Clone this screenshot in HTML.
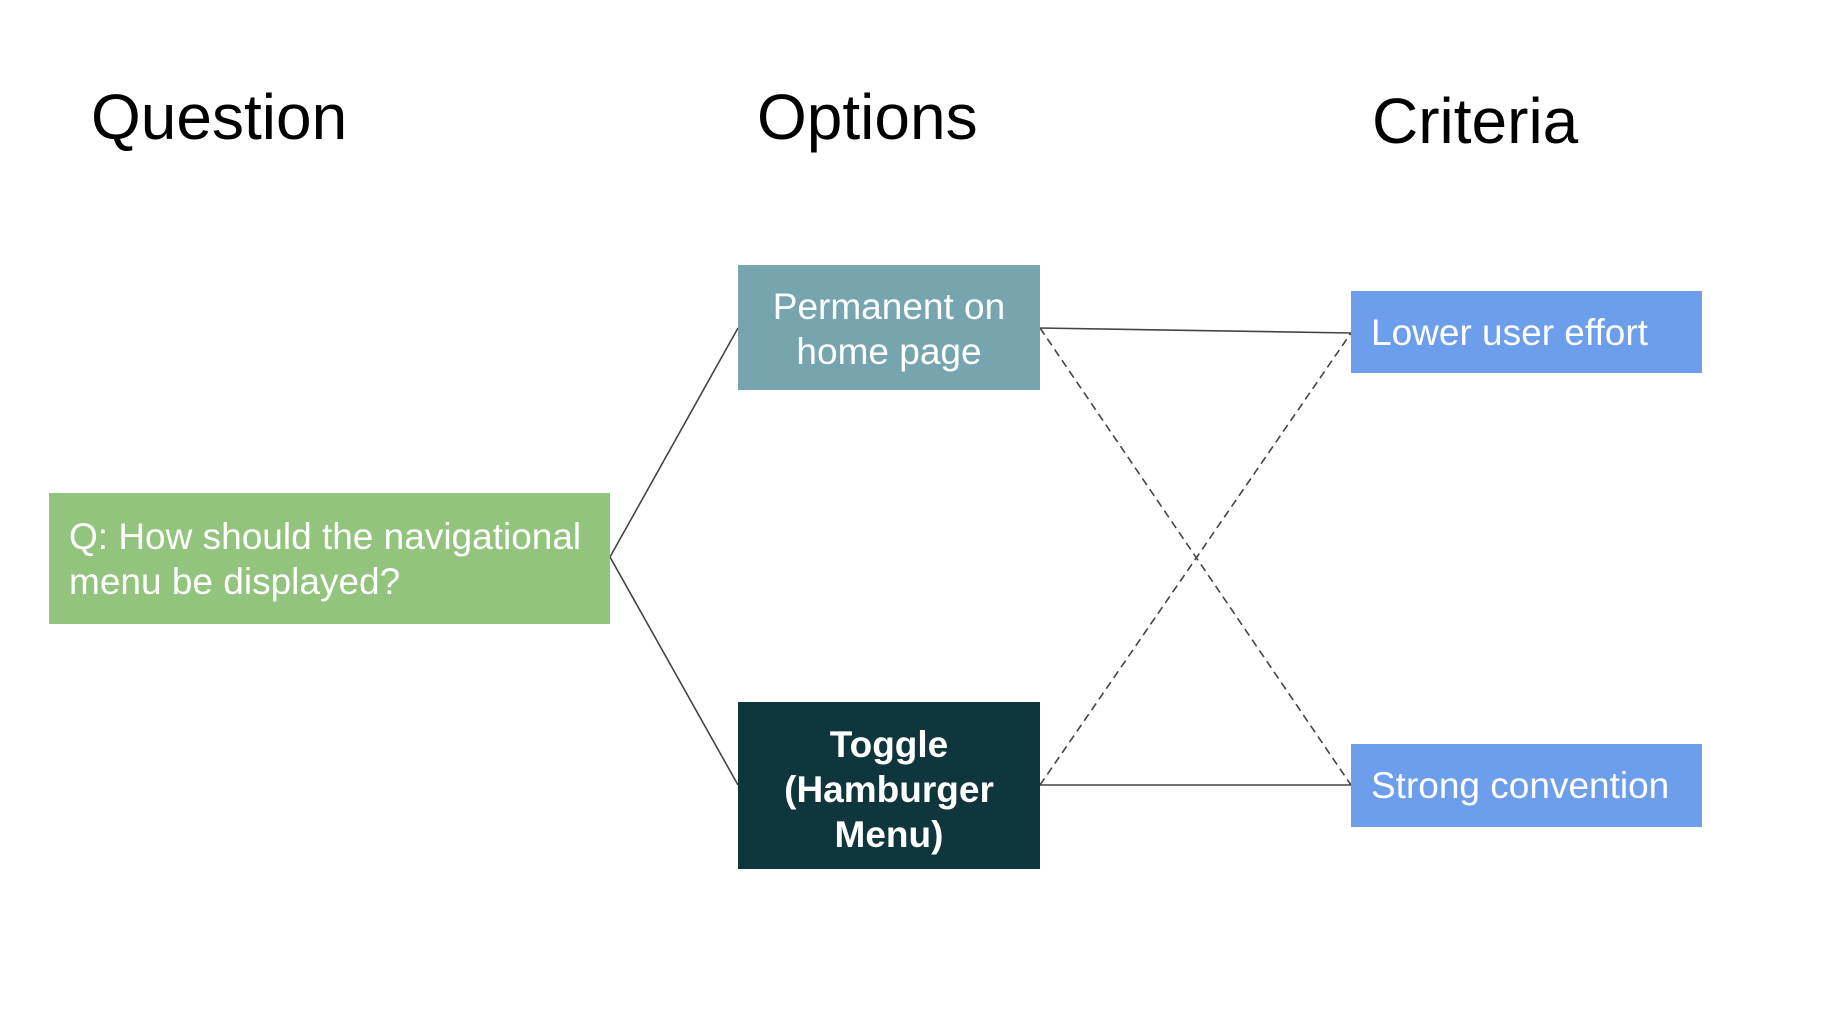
<!DOCTYPE html>
<html><head><style>
body{margin:0;width:1842px;height:1018px;background:#fff;position:relative;overflow:hidden;font-family:"Liberation Sans",Arial,sans-serif}
.h{position:absolute;font-size:64px;color:#000;line-height:1}
.b{position:absolute;display:flex;align-items:center;color:#fff;font-size:37px;line-height:45px;box-sizing:border-box}
</style></head><body>
<div class="h" style="left:91px;top:85px">Question</div>
<div class="h" style="left:757px;top:85px">Options</div>
<div class="h" style="left:1372px;top:89px">Criteria</div>
<svg width="1842" height="1018" style="position:absolute;left:0;top:0">
<g stroke="#444" stroke-width="1.6" fill="none">
<line x1="610" y1="557" x2="738" y2="328"/>
<line x1="610" y1="557" x2="738" y2="785"/>
<line x1="1040" y1="328" x2="1351" y2="333"/>
<line x1="1040" y1="785" x2="1351" y2="785"/>
<line x1="1040" y1="328" x2="1351" y2="785" stroke-dasharray="8,5"/>
<line x1="1040" y1="785" x2="1351" y2="333" stroke-dasharray="8,5"/>
</g></svg>
<div class="b" style="left:49px;top:493px;width:561px;height:131px;background:#93c47d;padding-left:20px">Q: How should the navigational<br>menu be displayed?</div>
<div class="b" style="left:738px;top:265px;width:302px;height:125px;background:#76a5af;justify-content:center;text-align:center;padding-top:3px">Permanent on<br>home page</div>
<div class="b" style="left:738px;top:702px;width:302px;height:167px;background:#0f353d;justify-content:center;text-align:center;font-weight:bold;padding-top:8px">Toggle<br>(Hamburger<br>Menu)</div>
<div class="b" style="left:1351px;top:291px;width:351px;height:82px;background:#6d9eeb;padding-left:20px">Lower user effort</div>
<div class="b" style="left:1351px;top:744px;width:351px;height:83px;background:#6d9eeb;padding-left:20px">Strong convention</div>
</body></html>
